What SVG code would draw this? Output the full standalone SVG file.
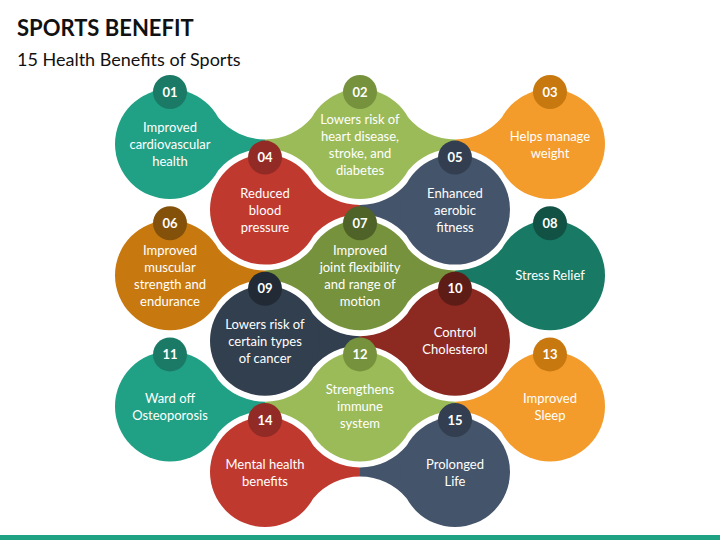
<svg xmlns="http://www.w3.org/2000/svg" xmlns:xlink="http://www.w3.org/1999/xlink" width="720" height="540" viewBox="0 0 720 540">
<style>
.t{font-family:Lato,"Liberation Sans",sans-serif;font-size:13px;fill:#fff;text-anchor:middle}
.n{font-family:Lato,"Liberation Sans",sans-serif;font-size:13px;font-weight:700;fill:#fff;text-anchor:middle}
.h1{font-family:Lato,"Liberation Sans",sans-serif;font-size:22px;font-weight:700;fill:#111}
.h2{font-family:Lato,"Liberation Sans",sans-serif;font-size:18px;fill:#111}
</style>
<defs>
<path id="bl" d="M48.2,-26.45 A61,61 0 0 0 95,-4.6 L95,4.6 A61,61 0 0 0 48.2,26.45 Z"/>
<path id="br" d="M95,-4.6 A61,61 0 0 0 141.8,-26.45 L141.8,26.45 A61,61 0 0 0 95,4.6 Z"/>
</defs>
<rect width="720" height="540" fill="#fff"/>
<text class="h1" x="17" y="36">SPORTS BENEFIT</text>
<text class="h2" x="17" y="66">15 Health Benefits of Sports</text>
<g id="connectors">
<use href="#bl" xlink:href="#bl" x="170" y="144" fill="#20a085"/><use href="#br" xlink:href="#br" x="170" y="144" fill="#9bbb59"/>
<use href="#bl" xlink:href="#bl" x="360" y="144" fill="#9bbb59"/><use href="#br" xlink:href="#br" x="360" y="144" fill="#f39c2b"/>
<use href="#bl" xlink:href="#bl" x="265" y="209.6" fill="#c0392f"/><use href="#br" xlink:href="#br" x="265" y="209.6" fill="#44546a"/>
<use href="#bl" xlink:href="#bl" x="170" y="275.2" fill="#c7790f"/><use href="#br" xlink:href="#br" x="170" y="275.2" fill="#76923c"/>
<use href="#bl" xlink:href="#bl" x="360" y="275.2" fill="#76923c"/><use href="#br" xlink:href="#br" x="360" y="275.2" fill="#187a64"/>
<use href="#bl" xlink:href="#bl" x="265" y="340.8" fill="#323f4f"/><use href="#br" xlink:href="#br" x="265" y="340.8" fill="#8c2a22"/>
<use href="#bl" xlink:href="#bl" x="170" y="406.4" fill="#20a085"/><use href="#br" xlink:href="#br" x="170" y="406.4" fill="#9bbb59"/>
<use href="#bl" xlink:href="#bl" x="360" y="406.4" fill="#9bbb59"/><use href="#br" xlink:href="#br" x="360" y="406.4" fill="#f39c2b"/>
<use href="#bl" xlink:href="#bl" x="265" y="472" fill="#c0392f"/><use href="#br" xlink:href="#br" x="265" y="472" fill="#44546a"/>
</g>
<g id="n01"><circle cx="170" cy="144" r="55" fill="#20a085"/><circle cx="170" cy="92" r="17" fill="#1a7a66"/><text class="n" x="170" y="96.5">01</text>
<text class="t" x="170" y="132">Improved</text><text class="t" x="170" y="149">cardiovascular</text><text class="t" x="170" y="166">health</text></g>
<g id="n02"><circle cx="360" cy="144" r="55" fill="#9bbb59"/><circle cx="360" cy="92" r="17" fill="#76923c"/><text class="n" x="360" y="96.5">02</text>
<text class="t" x="360" y="123.5">Lowers risk of</text><text class="t" x="360" y="140.5">heart disease,</text><text class="t" x="360" y="157.5">stroke, and</text><text class="t" x="360" y="174.5">diabetes</text></g>
<g id="n03"><circle cx="550" cy="144" r="55" fill="#f39c2b"/><circle cx="550" cy="92" r="17" fill="#c7780f"/><text class="n" x="550" y="96.5">03</text>
<text class="t" x="550" y="140.5">Helps manage</text><text class="t" x="550" y="157.5">weight</text></g>
<g id="n04"><circle cx="265" cy="209.6" r="55" fill="#c0392f"/><circle cx="265" cy="157.6" r="17" fill="#922b25"/><text class="n" x="265" y="162.1">04</text>
<text class="t" x="265" y="197.6">Reduced</text><text class="t" x="265" y="214.6">blood</text><text class="t" x="265" y="231.6">pressure</text></g>
<g id="n05"><circle cx="455" cy="209.6" r="55" fill="#44546a"/><circle cx="455" cy="157.6" r="17" fill="#333f50"/><text class="n" x="455" y="162.1">05</text>
<text class="t" x="455" y="197.6">Enhanced</text><text class="t" x="455" y="214.6">aerobic</text><text class="t" x="455" y="231.6">fitness</text></g>
<g id="n06"><circle cx="170" cy="275.2" r="55" fill="#c7790f"/><circle cx="170" cy="223.2" r="17" fill="#84510a"/><text class="n" x="170" y="227.7">06</text>
<text class="t" x="170" y="254.7">Improved</text><text class="t" x="170" y="271.7">muscular</text><text class="t" x="170" y="288.7">strength and</text><text class="t" x="170" y="305.7">endurance</text></g>
<g id="n07"><circle cx="360" cy="275.2" r="55" fill="#76923c"/><circle cx="360" cy="223.2" r="17" fill="#4f6228"/><text class="n" x="360" y="227.7">07</text>
<text class="t" x="360" y="254.7">Improved</text><text class="t" x="360" y="271.7">joint flexibility</text><text class="t" x="360" y="288.7">and range of</text><text class="t" x="360" y="305.7">motion</text></g>
<g id="n08"><circle cx="550" cy="275.2" r="55" fill="#187a64"/><circle cx="550" cy="223.2" r="17" fill="#115245"/><text class="n" x="550" y="227.7">08</text>
<text class="t" x="550" y="280.2">Stress Relief</text></g>
<g id="n09"><circle cx="265" cy="340.8" r="55" fill="#323f4f"/><circle cx="265" cy="288.8" r="17" fill="#222a35"/><text class="n" x="265" y="293.3">09</text>
<text class="t" x="265" y="328.8">Lowers risk of</text><text class="t" x="265" y="345.8">certain types</text><text class="t" x="265" y="362.8">of cancer</text></g>
<g id="n10"><circle cx="455" cy="340.8" r="55" fill="#8c2a22"/><circle cx="455" cy="288.8" r="17" fill="#5e1c17"/><text class="n" x="455" y="293.3">10</text>
<text class="t" x="455" y="337.3">Control</text><text class="t" x="455" y="354.3">Cholesterol</text></g>
<g id="n11"><circle cx="170" cy="406.4" r="55" fill="#20a085"/><circle cx="170" cy="354.4" r="17" fill="#1a7a66"/><text class="n" x="170" y="358.9">11</text>
<text class="t" x="170" y="402.9">Ward off</text><text class="t" x="170" y="419.9">Osteoporosis</text></g>
<g id="n12"><circle cx="360" cy="406.4" r="55" fill="#9bbb59"/><circle cx="360" cy="354.4" r="17" fill="#76923c"/><text class="n" x="360" y="358.9">12</text>
<text class="t" x="360" y="394.4">Strengthens</text><text class="t" x="360" y="411.4">immune</text><text class="t" x="360" y="428.4">system</text></g>
<g id="n13"><circle cx="550" cy="406.4" r="55" fill="#f39c2b"/><circle cx="550" cy="354.4" r="17" fill="#c7780f"/><text class="n" x="550" y="358.9">13</text>
<text class="t" x="550" y="402.9">Improved</text><text class="t" x="550" y="419.9">Sleep</text></g>
<g id="n14"><circle cx="265" cy="472" r="55" fill="#c0392f"/><circle cx="265" cy="420" r="17" fill="#922b25"/><text class="n" x="265" y="424.5">14</text>
<text class="t" x="265" y="468.5">Mental health</text><text class="t" x="265" y="485.5">benefits</text></g>
<g id="n15"><circle cx="455" cy="472" r="55" fill="#44546a"/><circle cx="455" cy="420" r="17" fill="#333f50"/><text class="n" x="455" y="424.5">15</text>
<text class="t" x="455" y="468.5">Prolonged</text><text class="t" x="455" y="485.5">Life</text></g>
<rect x="0" y="535" width="720" height="5" fill="#1fa184"/>
</svg>
